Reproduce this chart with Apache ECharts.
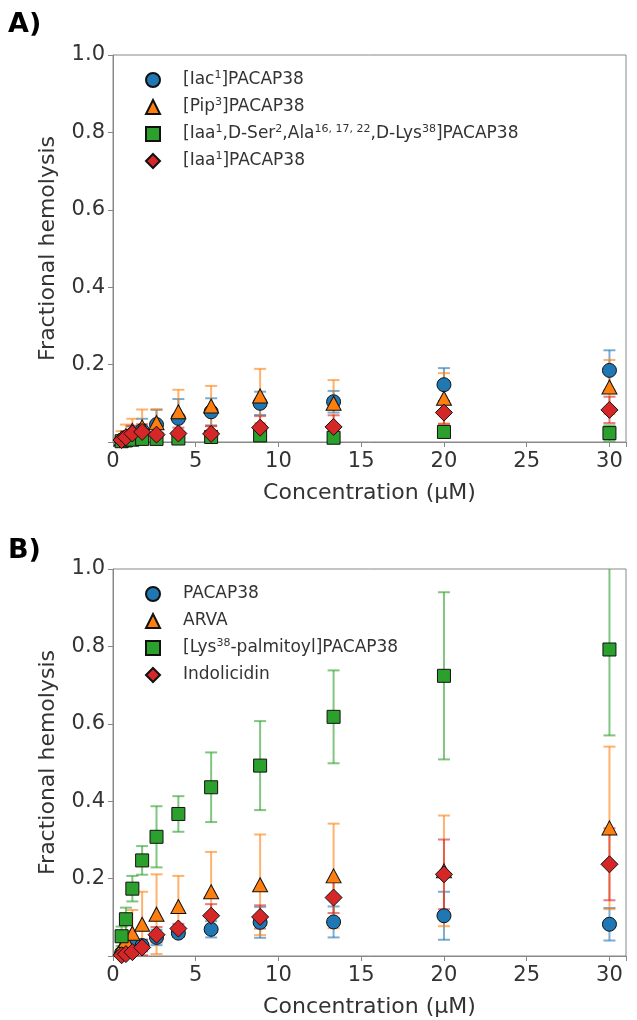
<!DOCTYPE html>
<html>
<head>
<meta charset="utf-8">
<script src="https://cdn.jsdelivr.net/npm/echarts@6.0.0/dist/echarts.min.js"></script>
<style>
  html, body { margin: 0; padding: 0; background: #fff; }
  #main { width: 637px; height: 1020px; }
</style>
</head>
<body>
<div id="main"></div>
<script>
// concentrations (µM), 1.5-fold dilution series
var conc = [0.52, 0.78, 1.17, 1.76, 2.63, 3.95, 5.93, 8.89, 13.33, 20, 30];

// panel A
var iacY   = [0.005, 0.012, 0.02, 0.03, 0.045, 0.061, 0.078, 0.100, 0.104, 0.148, 0.185];
var iacErr = [0.01, 0.015, 0.02, 0.03, 0.038, 0.05, 0.035, 0.03, 0.028, 0.043, 0.052];
var pipY   = [0.008, 0.015, 0.03, 0.039, 0.05, 0.078, 0.093, 0.119, 0.100, 0.113, 0.142];
var pipErr = [0.02, 0.03, 0.03, 0.045, 0.035, 0.057, 0.052, 0.07, 0.06, 0.065, 0.07];
var iaaMultiY   = [0.002, 0.004, 0.006, 0.008, 0.008, 0.009, 0.013, 0.017, 0.011, 0.026, 0.023];
var iaaMultiErr = [0.005, 0.008, 0.01, 0.01, 0.01, 0.01, 0.012, 0.015, 0.01, 0.01, 0.02];
var iaaY   = [0.005, 0.012, 0.022, 0.026, 0.019, 0.022, 0.021, 0.037, 0.039, 0.076, 0.083];
var iaaErr = [0.01, 0.015, 0.02, 0.02, 0.015, 0.015, 0.02, 0.03, 0.03, 0.03, 0.034];

// panel B
var pacapY   = [0.008, 0.016, 0.031, 0.027, 0.048, 0.059, 0.069, 0.087, 0.088, 0.104, 0.082];
var pacapErr = [0.008, 0.012, 0.015, 0.015, 0.02, 0.01, 0.021, 0.04, 0.04, 0.062, 0.042];
var arvaY   = [0.022, 0.04, 0.059, 0.082, 0.108, 0.128, 0.166, 0.184, 0.207, 0.22, 0.331];
var arvaErr = [0.02, 0.04, 0.06, 0.084, 0.103, 0.079, 0.103, 0.13, 0.135, 0.143, 0.21];
var palmY   = [0.051, 0.095, 0.174, 0.247, 0.308, 0.367, 0.436, 0.492, 0.618, 0.724, 0.792];
var palmErr = [0.025, 0.03, 0.033, 0.037, 0.079, 0.046, 0.09, 0.115, 0.12, 0.216, 0.222];
var indoY   = [0.002, 0.005, 0.01, 0.022, 0.055, 0.071, 0.104, 0.101, 0.151, 0.211, 0.237];
var indoErr = [0.005, 0.008, 0.01, 0.02, 0.02, 0.012, 0.03, 0.03, 0.04, 0.09, 0.093];

var namesA = ['[Iac1]PACAP38', '[Pip3]PACAP38', '[Iaa1,D-Ser2,Ala16,17,22,D-Lys38]PACAP38', '[Iaa1]PACAP38'];
var namesB = ['PACAP38', 'ARVA', '[Lys38-palmitoyl]PACAP38', 'Indolicidin'];

var legendRich = {
    '[Iac1]PACAP38': '[Iac{s|1}]PACAP38',
    '[Pip3]PACAP38': '[Pip{s|3}]PACAP38',
    '[Iaa1,D-Ser2,Ala16,17,22,D-Lys38]PACAP38': '[Iaa{s|1},D-Ser{s|2},Ala{s|16, 17, 22},D-Lys{s|38}]PACAP38',
    '[Iaa1]PACAP38': '[Iaa{s|1}]PACAP38',
    '[Lys38-palmitoyl]PACAP38': '[Lys{s|38}-palmitoyl]PACAP38'
};

var colors = ['#1f77b4', '#ff7f0e', '#2ca02c', '#d62728'];
var symbols = ['circle', 'triangle', 'rect', 'diamond'];
var sizes = [14, [15, 14], 13, 17];
var FONT = 'DejaVu Sans';

var myChart = echarts.init(document.getElementById('main'));

function errSeries(name, idx, ys, errs, color) {
    return {
        type: 'custom',
        name: name + ' err',
        xAxisIndex: idx,
        yAxisIndex: idx,
        clip: true,
        silent: true,
        data: conc.map(function (c, i) { return [c, ys[i] - errs[i], ys[i] + errs[i]]; }),
        renderItem: function (params, api) {
            var lo = api.coord([api.value(0), api.value(1)]);
            var hi = api.coord([api.value(0), api.value(2)]);
            var w = 6;
            var st = { stroke: color, lineWidth: 2, opacity: 0.6 };
            return {
                type: 'group',
                children: [
                    { type: 'line', shape: { x1: lo[0], y1: lo[1], x2: hi[0], y2: hi[1] }, style: st },
                    { type: 'line', shape: { x1: hi[0] - w, y1: hi[1], x2: hi[0] + w, y2: hi[1] }, style: st },
                    { type: 'line', shape: { x1: lo[0] - w, y1: lo[1], x2: lo[0] + w, y2: lo[1] }, style: st }
                ]
            };
        }
    };
}

function dotSeries(name, idx, ys, k) {
    return {
        type: 'scatter',
        name: name,
        xAxisIndex: idx,
        yAxisIndex: idx,
        symbol: symbols[k],
        symbolSize: sizes[k],
        itemStyle: { color: colors[k], borderColor: '#111', borderWidth: 1, opacity: 1 },
        data: conc.map(function (c, i) { return [c, ys[i]]; })
    };
}

var series = [];
var dataA = [[iacY, iacErr], [pipY, pipErr], [iaaMultiY, iaaMultiErr], [iaaY, iaaErr]];
var dataB = [[pacapY, pacapErr], [arvaY, arvaErr], [palmY, palmErr], [indoY, indoErr]];
dataA.forEach(function (d, k) {
    series.push(errSeries(namesA[k], 0, d[0], d[1], colors[k]));
    series.push(dotSeries(namesA[k], 0, d[0], k));
});
dataB.forEach(function (d, k) {
    series.push(errSeries(namesB[k], 1, d[0], d[1], colors[k]));
    series.push(dotSeries(namesB[k], 1, d[0], k));
});

function xAx(idx) {
    return {
        type: 'value', gridIndex: idx, min: 0, max: 31, interval: 5,
        name: 'Concentration (µM)', nameLocation: 'middle', nameGap: 40,
        nameTextStyle: { fontFamily: FONT, fontSize: 22, color: '#333' },
        axisLine: { lineStyle: { color: '#888' } },
        axisTick: { length: 5, lineStyle: { color: '#888' } },
        axisLabel: {
            fontFamily: FONT, fontSize: 21, color: '#333', margin: 9,
            formatter: function (v) { return v % 5 === 0 ? String(v) : ''; }
        },
        splitLine: { show: false }
    };
}
function yAx(idx) {
    return {
        type: 'value', gridIndex: idx, min: 0, max: 1, interval: 0.2,
        name: 'Fractional hemolysis', nameLocation: 'middle', nameGap: 54,
        nameTextStyle: { fontFamily: FONT, fontSize: 22, color: '#333' },
        axisLine: { show: true, lineStyle: { color: '#888' } },
        axisTick: { show: true, length: 5, lineStyle: { color: '#888' } },
        axisLabel: {
            fontFamily: FONT, fontSize: 21, color: '#333', margin: 8,
            formatter: function (v) { return v === 0 ? '' : v.toFixed(1); }
        },
        splitLine: { show: false }
    };
}
function leg(names, top) {
    return {
        data: names,
        orient: 'vertical',
        left: 140,
        top: top,
        itemWidth: 14,
        itemHeight: 14,
        itemGap: 7,
        formatter: function (name) { return '{g|}' + (legendRich[name] || name); },
        textStyle: {
            fontFamily: FONT, fontSize: 17, color: '#333', lineHeight: 20,
            rich: {
                g: { width: 18 },
                s: { fontFamily: FONT, fontSize: 11, color: '#333', verticalAlign: 'top', lineHeight: 10 }
            }
        }
    };
}

var option = {
    animation: false,
    backgroundColor: '#fff',
    title: [
        { text: 'A)', left: 3, top: 6, textStyle: { fontFamily: FONT, fontSize: 27, fontWeight: 'bold', color: '#000' } },
        { text: 'B)', left: 3, top: 532, textStyle: { fontFamily: FONT, fontSize: 27, fontWeight: 'bold', color: '#000' } }
    ],
    grid: [
        { left: 113, top: 55, width: 513, height: 387, show: true, borderColor: '#888', borderWidth: 1 },
        { left: 113, top: 569, width: 513, height: 387, show: true, borderColor: '#888', borderWidth: 1 }
    ],
    legend: [leg(namesA, 65), leg(namesB, 579)],
    xAxis: [xAx(0), xAx(1)],
    yAxis: [yAx(0), yAx(1)],
    series: series
};

myChart.setOption(option);

window.onresize = function () {
    myChart.resize();
};
</script>
</body>
</html>
